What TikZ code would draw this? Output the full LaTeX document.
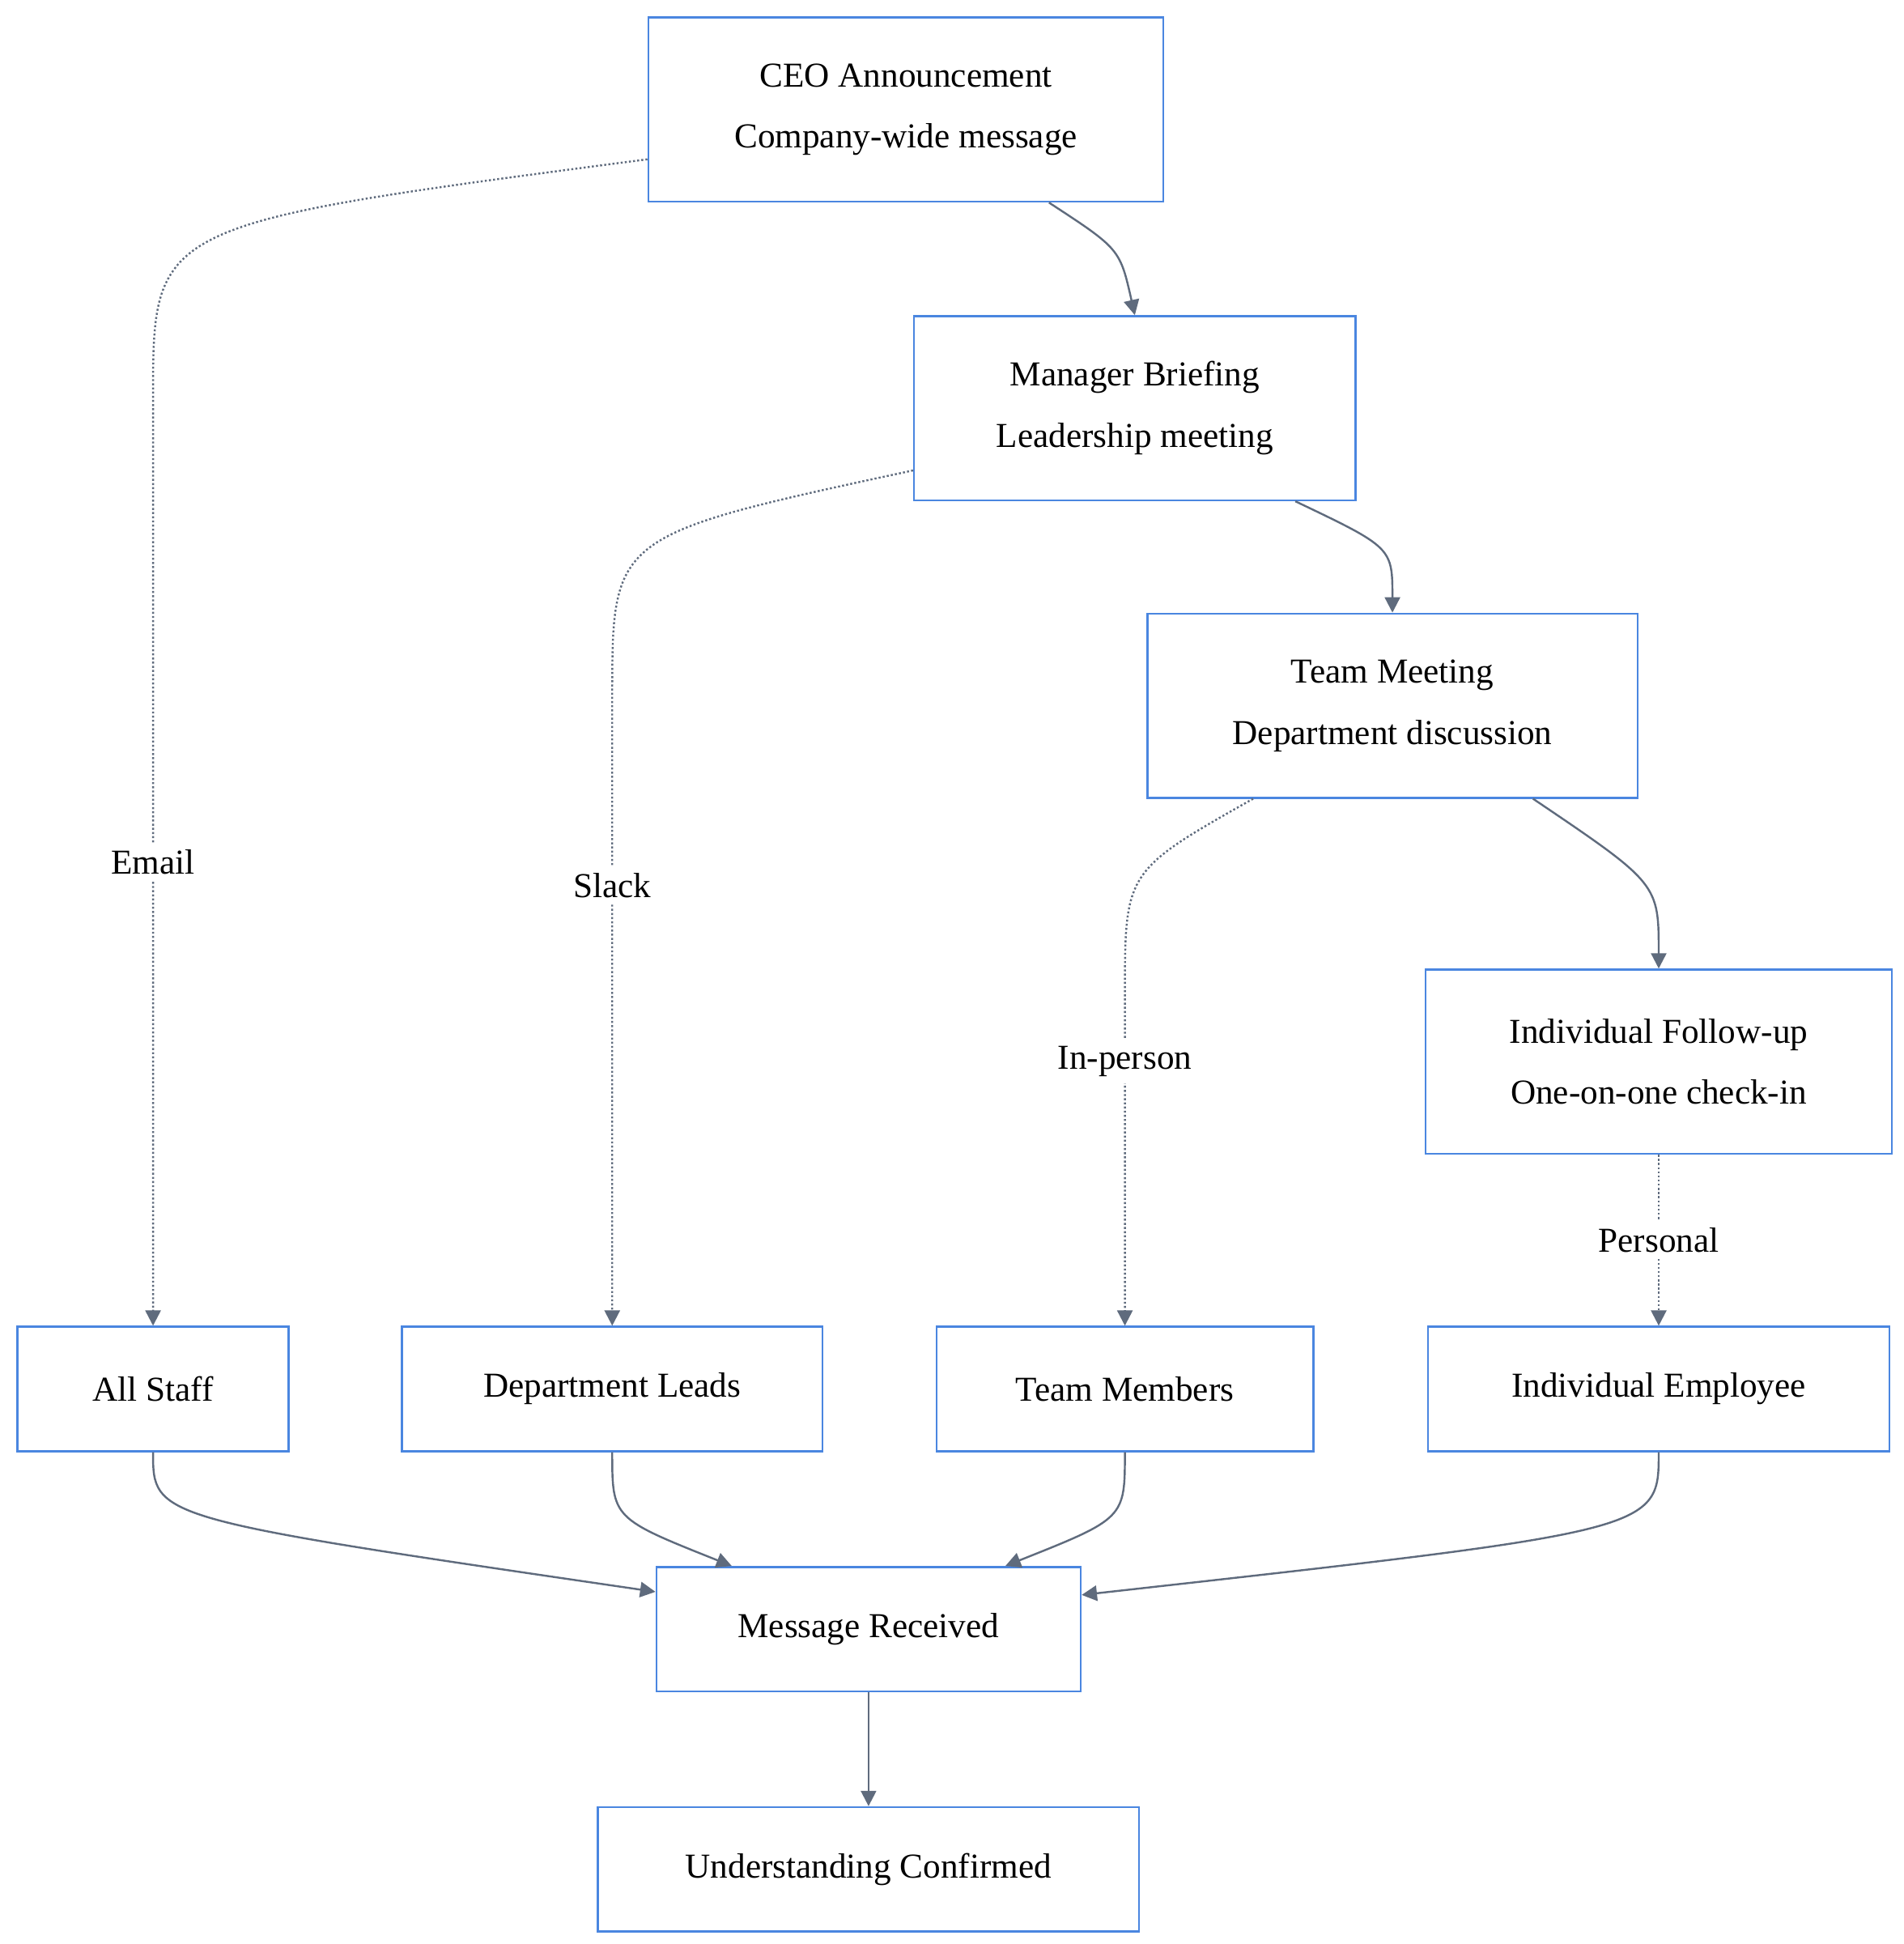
\documentclass[tikz,border=0pt]{standalone}
\usepackage{fontspec}
\setmainfont{Liberation Serif}
\usetikzlibrary{arrows.meta}
\definecolor{boxblue}{HTML}{4A86E0}
\definecolor{linegray}{HTML}{5F6B7D}
\begin{document}
\begin{tikzpicture}[x=0.02cm, y=-0.02cm,
		box_style/.style={rectangle,draw=boxblue,line width=0.9pt,fill=white,align=center,
			font=\fontsize{16}{28}\selectfont,minimum height=2.96cm},
		small_style/.style={box_style,minimum height=2cm},
		edge_style/.style={draw=linegray,line width=0.9pt,-{Triangle[length=7pt,width=7pt]}},
		dash_style/.style={edge_style,densely dotted},
		label_style/.style={fill=white,font=\fontsize{16}{20}\selectfont,inner sep=3pt}]
		
		\useasboundingbox (0,0) rectangle (1530,1562);
		
		\node[box_style,minimum width=8.28cm] (ceo) at (728,88) {CEO Announcement\\Company-wide message};
		\node[box_style,minimum width=7.1cm] (mgr) at (912,328) {Manager Briefing\\Leadership meeting};
		\node[box_style,minimum width=7.88cm] (team) at (1119,567) {Team Meeting\\Department discussion};
		\node[box_style,minimum width=7.5cm] (follow) at (1333,853) {Individual Follow-up\\One-on-one check-in};
		\node[small_style,minimum width=4.36cm] (staff) at (123,1116) {All Staff};
		\node[small_style,minimum width=6.76cm] (leads) at (492,1116) {Department Leads};
		\node[small_style,minimum width=6.06cm] (members) at (904,1116) {Team Members};
		\node[small_style,minimum width=7.42cm] (employee) at (1333,1116) {Individual Employee};
		\node[small_style,minimum width=6.82cm] (received) at (698,1309) {Message Received};
		\node[small_style,minimum width=8.7cm] (confirmed) at (698,1502) {Understanding Confirmed};
		
		% solid chain
		\draw[edge_style] ([xshift=2.3cm]ceo.south) .. controls (900,200) .. (mgr.north);
		\draw[edge_style] ([xshift=2.58cm]mgr.south) .. controls (1119,440) .. (team.north);
		\draw[edge_style] ([xshift=2.26cm]team.south) .. controls (1333,710) .. (follow.north);
		
		% dotted channels
		\draw[dash_style] ([yshift=-0.8cm]ceo.west) .. controls (123,180) .. (123,320) -- node[label_style]{Email} (staff.north);
		\draw[dash_style] ([yshift=-1cm]mgr.west) .. controls (492,430) .. (492,560) -- node[label_style,pos=0.3]{Slack} (leads.north);
		\draw[dash_style] ([xshift=-2.24cm]team.south) .. controls (904,700) .. (904,800) -- node[label_style,pos=0.2]{In-person} (members.north);
		\draw[dash_style] (follow.south) -- node[label_style]{Personal} (employee.north);
		
		% converge
		\draw[edge_style] (staff.south) .. controls (123,1220) .. ([yshift=0.6cm]received.west);
		\draw[edge_style] (leads.south) .. controls (492,1220) .. ([xshift=-2.2cm]received.north);
		\draw[edge_style] (members.south) .. controls (904,1220) .. ([xshift=2.2cm]received.north);
		\draw[edge_style] (employee.south) .. controls (1333,1230) .. ([yshift=0.55cm]received.east);
		\draw[edge_style] (received.south) -- (confirmed.north);
		
\end{tikzpicture}
\end{document}
